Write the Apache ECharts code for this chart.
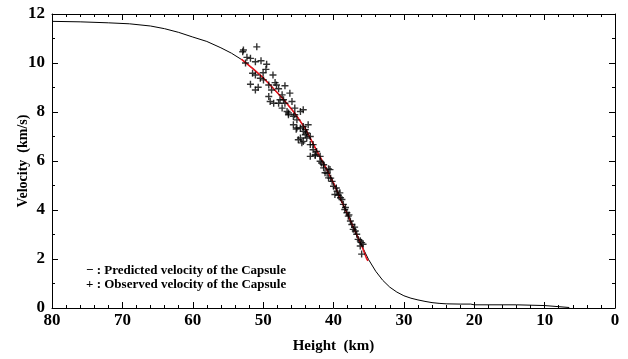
<!DOCTYPE html>
<html>
<head>
<meta charset="utf-8">
<script src="https://cdn.jsdelivr.net/npm/echarts@6/dist/echarts.min.js"></script>
<style>html,body{margin:0;padding:0;background:#fff}#c{width:628px;height:359px}</style>
</head>
<body>
<div id="c"></div>
<script>
// Predicted velocity curve (height km, velocity km/s)
var predicted = [
  [80,11.70],[76,11.68],[72,11.64],[69,11.60],[66,11.51],[64,11.40],[62,11.25],[60,11.06],
  [58,10.88],[56,10.62],[54.5,10.40],[53,10.13],[51.5,9.78],[50,9.40],[48.5,8.95],[47,8.48],
  [45.5,7.95],[44,7.32],[42.5,6.48],[41,5.68],[40,5.10],[39,4.45],[38,3.82],[37,3.18],[36,2.55],
  [35,1.97],[34,1.50],[33,1.13],[32,0.85],[31,0.65],[30,0.50],[29,0.40],[28,0.33],[27,0.27],
  [26,0.22],[25,0.19],[24,0.17],[22,0.16],[20.5,0.16],[20,0.13],[14,0.13],[13.9,0.10],
  [10,0.10],[9.9,0.03],[6.5,0.02]
];
// Red fitted segment over the observation range
var fitted = [
  [53.1,10.16],[51.5,9.78],[50,9.40],[48.5,8.95],[47,8.48],[45.5,7.95],[44,7.32],[42.5,6.48],
  [41,5.68],[40,5.10],[39,4.45],[38,3.82],[37,3.18],[36,2.55],[35.3,2.02],[35.1,1.92]
];
// Observed velocity points
var observed = [
  [50.9,10.66],[52.9,10.46],[52.8,10.53],[52.3,10.23],[51.8,10.19],[51.1,10.05],[50.3,10.09],
  [49.5,9.95],[49.6,9.74],[51.5,9.58],[51.1,9.51],[48.6,9.51],[50.4,9.38],[49.95,9.31],[51.8,9.13],
  [50.7,9.01],[51.1,8.9],[49.2,9.1],[48.8,8.9],[48.1,9.1],[46.9,9.07],[49.2,8.63],[49.0,8.43],
  [47.3,8.7],[47.6,8.5],[46.9,8.36],[46.2,8.77],[45.9,8.43],[47.3,8.16],[46.6,8.02],[46.4,7.89],
  [45.5,8.16],[44.7,8.02],[44.3,8.09],[45.7,7.82],[45.2,7.68],[44.7,7.35],[44.0,7.28],[43.8,7.14],
  [44.7,6.94],[44.3,6.8],[43.3,7.0],[42.9,6.67],[42.4,6.39],[42.6,6.22],[41.9,6.19],
  [52.5,10.0],[50.0,9.6],[48.3,9.2],[47.8,8.95],[48.5,8.36],[47.8,8.36],[47.1,8.5],[45.0,6.87],
  [44.5,6.74],[43.6,7.48],[45.3,7.3],
  [46.4,7.96],[45.5,7.89],[45.7,7.48],[45.2,7.35],[44.3,7.41],[44.3,7.21],[44.0,7.07],[43.8,6.94],
  [43.3,6.67],[42.9,6.46],[43.3,6.19],[42.6,6.26],[41.7,5.92],[41.4,5.72],[40.7,5.68],
  [41.9,5.99],[41.4,5.85],[40.5,5.65],[41.2,5.52],[40.7,5.31],[40.2,5.17],[40.0,4.97],[39.5,4.77],
  [39.8,4.63],[39.1,4.70],[38.8,4.43],[38.6,4.23],[38.4,4.02],[38.1,3.89],[37.9,3.75],[37.6,3.55],
  [37.4,3.41],[37.2,3.21],[36.9,3.14],[36.7,3.01],[36.2,2.74],[35.8,2.6],[36.0,2.2],[36.5,2.8],
  [36.0,2.67],[36.2,2.53],
  [40.4,5.3],[39.6,4.9],[39.0,4.5],[38.3,4.1],[37.8,3.8],[37.0,3.3],[40.9,5.5],[39.3,4.6]
];
var xTitle = 'Height  (km)';
var yTitle = 'Velocity  (km/s)';
var legendLines = ['\u2212 : Predicted velocity of the Capsule', '+ : Observed velocity of the Capsule'];

var FONT = '"Liberation Serif", "Times New Roman", serif';
var chart = echarts.init(document.getElementById('c'), null, {renderer: 'canvas'});
var lineStyleAxis = {color: '#000', width: 1};
var tickBase = {show: true, inside: true, length: 6, lineStyle: {color: '#000', width: 1}};
var minorBase = {show: true, splitNumber: 5, length: 3, lineStyle: {color: '#000', width: 1}};
chart.setOption({
  animation: false,
  backgroundColor: '#fff',
  grid: {left: 52, right: 13, top: 14, bottom: 50},
  xAxis: [{
    type: 'value', min: 0, max: 80, interval: 10, inverse: true, position: 'bottom',
    axisLine: {show: true, onZero: false, lineStyle: lineStyleAxis},
    axisTick: tickBase, minorTick: minorBase,
    splitLine: {show: false},
    axisLabel: {color: '#000', fontFamily: FONT, fontWeight: 'bold', fontSize: 17, margin: 4},
    name: xTitle, nameLocation: 'middle', nameGap: 31, nameMoveOverlap: false,
    nameTextStyle: {color: '#000', fontFamily: FONT, fontWeight: 'bold', fontSize: 15}
  }, {
    type: 'value', min: 0, max: 80, interval: 10, inverse: true, position: 'top',
    axisLine: {show: true, onZero: false, lineStyle: lineStyleAxis},
    axisTick: tickBase, minorTick: minorBase,
    splitLine: {show: false}, axisLabel: {show: false}
  }],
  yAxis: [{
    type: 'value', min: 0, max: 12, interval: 2, position: 'left',
    axisLine: {show: true, onZero: false, lineStyle: lineStyleAxis},
    axisTick: tickBase, minorTick: {show: true, splitNumber: 2, length: 3, lineStyle: {color: '#000', width: 1}},
    splitLine: {show: false},
    axisLabel: {color: '#000', fontFamily: FONT, fontWeight: 'bold', fontSize: 17, margin: 7},
    name: yTitle, nameLocation: 'middle', nameGap: 22, nameMoveOverlap: false,
    nameTextStyle: {color: '#000', fontFamily: FONT, fontWeight: 'bold', fontSize: 14}
  }, {
    type: 'value', min: 0, max: 12, interval: 2, position: 'right',
    axisLine: {show: true, onZero: false, lineStyle: lineStyleAxis},
    axisTick: tickBase, minorTick: {show: true, splitNumber: 2, length: 3, lineStyle: {color: '#000', width: 1}},
    splitLine: {show: false}, axisLabel: {show: false}
  }],
  graphic: [
    {type: 'text', left: 86, top: 264, style: {text: legendLines[0], fill: '#000', font: 'bold 13px ' + FONT}},
    {type: 'text', left: 86, top: 278, style: {text: legendLines[1], fill: '#000', font: 'bold 13px ' + FONT}}
  ],
  series: [{
    type: 'line', data: predicted, showSymbol: false, symbol: 'none',
    lineStyle: {color: '#000', width: 1}, z: 2
  }, {
    type: 'line', data: fitted, showSymbol: false, symbol: 'none',
    lineStyle: {color: '#e8141c', width: 1.6}, z: 3
  }, {
    type: 'scatter', data: observed,
    symbol: 'path://M0,4H10V6H0ZM4,0H6V10H4Z', symbolSize: 7,
    itemStyle: {color: '#000'}, z: 4
  }]
});
</script>
</body>
</html>
